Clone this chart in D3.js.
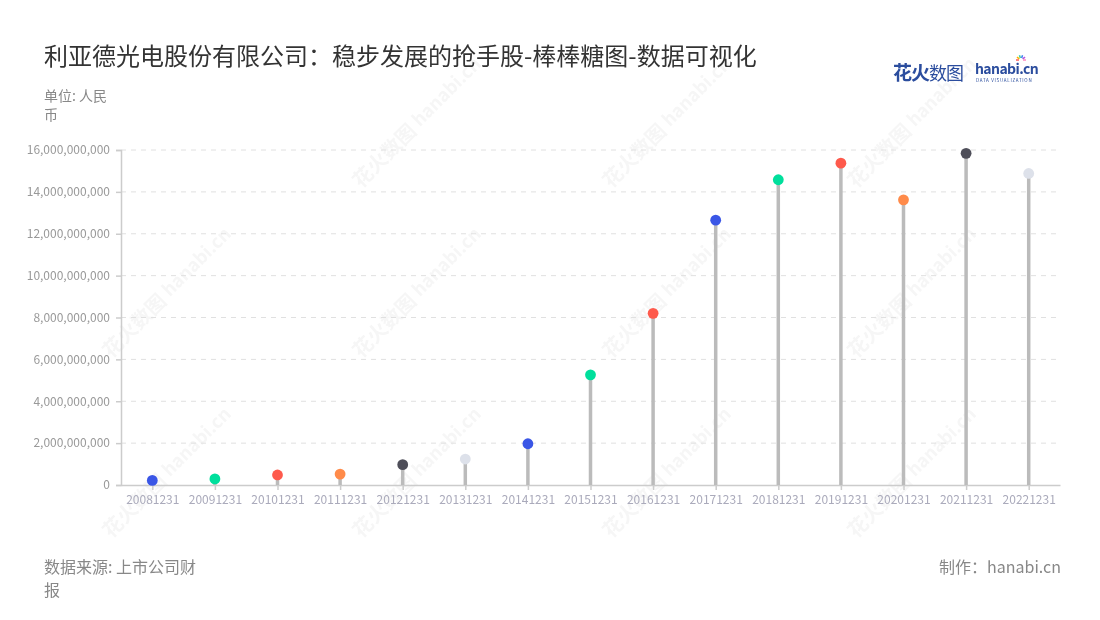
<!DOCTYPE html>
<html><head><meta charset="utf-8">
<script src="https://cdn.jsdelivr.net/npm/d3@7/dist/d3.min.js"></script>
<style>
body{margin:0;background:#fff;}
svg{font-family:"Noto Sans CJK SC","Noto Sans",sans-serif;}
</style></head>
<body><svg id="c" width="1100" height="620"></svg>
<script>
const categories = ["20081231","20091231","20101231","20111231","20121231","20131231","20141231","20151231","20161231","20171231","20181231","20191231","20201231","20211231","20221231"];
const values = [0.22e9,0.29e9,0.48e9,0.52e9,0.97e9,1.24e9,1.97e9,5.26e9,8.2e9,12.65e9,14.58e9,15.37e9,13.62e9,15.84e9,14.88e9];
const dotColors = ["#3a56e6","#00df9c","#fe5a4c","#ff8b4a","#4e4e59","#dde1ea","#3a56e6","#00df9c","#fe5a4c","#3a56e6","#00df9c","#fe5a4c","#ff8b4a","#4e4e59","#dde1ea"];
const yTicks = [0,2e9,4e9,6e9,8e9,10e9,12e9,14e9,16e9];

const svg = d3.select("#c");
const L=121, R=1060, T=150, B=485;

// watermarks
const wm = svg.append("g").attr("opacity",0.06);
const wmPos = [[400,150],[650,150],[895,150],[150,320],[400,320],[650,320],[895,320],[150,500],[400,500],[650,500],[895,500]];
wmPos.forEach(([x,y])=>{
  const g = wm.append("g").attr("transform",`translate(${x},${y}) rotate(-45)`);
  g.append("text").attr("x",-55).attr("y",0).attr("font-size",20).attr("font-weight","bold").attr("fill","#666").text("花火数图");
  g.append("text").attr("x",30).attr("y",-2).attr("font-size",18).attr("font-weight","bold").attr("fill","#666").text("hanabi.cn");
});

const x = d3.scalePoint().domain(categories).range([L,R]).padding(0.5);
const y = d3.scaleLinear().domain([0,16e9]).range([B,T]);

// grid
svg.append("g").selectAll("line").data(yTicks.filter(d=>d>0)).join("line")
  .attr("x1",L).attr("x2",R).attr("y1",d=>y(d)).attr("y2",d=>y(d))
  .attr("stroke","#e0e0e0").attr("stroke-dasharray","5,5");

// y axis
const ya = svg.append("g").attr("transform",`translate(${L},0)`)
  .call(d3.axisLeft(y).tickValues(yTicks).tickSize(5).tickPadding(6).tickFormat(d3.format(",")));
ya.select(".domain").attr("stroke","#ccc").attr("stroke-width",1.5);
ya.selectAll(".tick line").attr("stroke","#ccc").attr("stroke-width",1.5);
ya.selectAll("text").attr("fill","#999").attr("font-size",12).attr("font-family","Noto Sans CJK SC, Noto Sans, sans-serif");

// x axis
const xa = svg.append("g").attr("transform",`translate(0,${B})`)
  .call(d3.axisBottom(x).tickSize(5).tickPadding(5).tickSizeOuter(0));
xa.select(".domain").attr("stroke","#ccc").attr("stroke-width",1.5);
xa.selectAll(".tick line").attr("stroke","#ccc").attr("stroke-width",1.5);
xa.selectAll("text").attr("fill","#aab").attr("font-size",12).attr("font-family","Noto Sans CJK SC, Noto Sans, sans-serif");

// stems
svg.append("g").selectAll("line").data(values).join("line")
  .attr("x1",(d,i)=>x(categories[i])).attr("x2",(d,i)=>x(categories[i]))
  .attr("y1",B).attr("y2",d=>y(d))
  .attr("stroke","#bbbbbb").attr("stroke-width",3.5);
// dots
svg.append("g").selectAll("circle").data(values).join("circle")
  .attr("cx",(d,i)=>x(categories[i])).attr("cy",d=>y(d)).attr("r",5.4)
  .attr("fill",(d,i)=>dotColors[i]);

// title
svg.append("text").attr("x",44).attr("y",65).attr("font-size",24).attr("fill","#333")
  .text("利亚德光电股份有限公司：稳步发展的抢手股-棒棒糖图-数据可视化");
svg.append("text").attr("x",44).attr("y",101).attr("font-size",14).attr("fill","#888").text("单位: 人民");
svg.append("text").attr("x",44).attr("y",120).attr("font-size",14).attr("fill","#888").text("币");

// footer
svg.append("text").attr("x",44).attr("y",573).attr("font-size",16).attr("fill","#888").text("数据来源: 上市公司财");
svg.append("text").attr("x",44).attr("y",596).attr("font-size",16).attr("fill","#888").text("报");
svg.append("text").attr("x",1061).attr("y",573).attr("text-anchor","end").attr("font-size",16).attr("fill","#888").text("制作：hanabi.cn");

// logo
svg.append("text").attr("x",893).attr("y",80).attr("font-size",19).attr("font-weight","bold").attr("fill","#2b4d9e").attr("letter-spacing",-1).text("花火");
svg.append("text").attr("x",929).attr("y",80).attr("font-size",18).attr("fill","#2b4d9e").attr("letter-spacing",-1).text("数图");
svg.append("text").attr("x",975).attr("y",74).attr("font-size",14).attr("font-weight","bold").attr("fill","#2b4d9e").attr("letter-spacing",-0.6).text("hanabi.cn");
svg.append("text").attr("x",976).attr("y",82).attr("font-size",4.5).attr("fill","#2b4d9e").attr("letter-spacing",0.7).text("DATA VISUALIZATION");
const sp = svg.append("g").attr("transform","translate(1021,60)");
["#ff5a5a","#ffb400","#3ad29f","#3a7ff0","#b05ae0","#ff8ac0"].forEach((c,i)=>{
  const a=-Math.PI+i*Math.PI/5;
  sp.append("line").attr("x1",Math.cos(a)*2).attr("y1",Math.sin(a)*2).attr("x2",Math.cos(a)*5).attr("y2",Math.sin(a)*5).attr("stroke",c).attr("stroke-width",1.5);
});
</script></body></html>
